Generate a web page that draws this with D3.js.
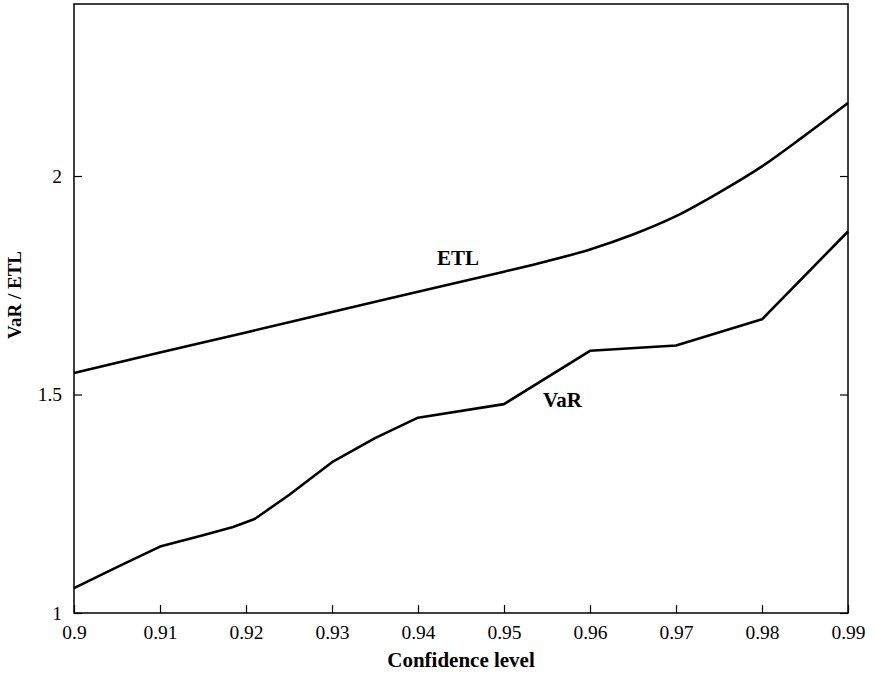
<!DOCTYPE html>
<html><head><meta charset="utf-8">
<script src="https://cdn.jsdelivr.net/npm/d3@7"></script>
<style>body{margin:0;background:#fff}svg{display:block}</style>
</head><body>
<svg id="c" width="876" height="674"></svg>
<script>
const xTicks = [0.9,0.91,0.92,0.93,0.94,0.95,0.96,0.97,0.98,0.99];
const xTickLabels = ["0.9","0.91","0.92","0.93","0.94","0.95","0.96","0.97","0.98","0.99"];
const yTicks = [1,1.5,2];
const yTickLabels = ["1","1.5","2"];
const etlX = [0.90,0.91,0.92,0.93,0.94,0.95,0.955,0.96,0.965,0.97,0.975,0.98,0.985,0.99];
const etlY = [1.549,1.596,1.642,1.689,1.735,1.781,1.805,1.832,1.866,1.908,1.962,2.022,2.093,2.167];
const varX = [0.90,0.905,0.91,0.915,0.9185,0.921,0.925,0.93,0.935,0.94,0.95,0.96,0.97,0.98,0.99];
const varY = [1.057,1.105,1.152,1.178,1.197,1.215,1.27,1.345,1.40,1.447,1.478,1.60,1.612,1.672,1.873];
const seriesLabels = ["ETL","VaR"];
const xTitle = "Confidence level", yTitle = "VaR / ETL";

const L=74,R=848,T=4,B=613;
const svg=d3.select("#c");
const x=d3.scaleLinear().domain([0.9,0.99]).range([L,R]);
const y=d3.scaleLinear().domain([1,2.3936]).range([B,T]);
const font="'Liberation Serif','Times New Roman',serif";

svg.append("rect").attr("x",L).attr("y",T).attr("width",R-L).attr("height",B-T)
  .attr("fill","none").attr("stroke","#000").attr("stroke-width",1.5);

const xAxis=d3.axisBottom(x).tickValues(xTicks).tickFormat((d,i)=>xTickLabels[i]).tickSizeInner(-8).tickSizeOuter(0).tickPadding(12);
const gx=svg.append("g").attr("transform",`translate(0,${B})`).call(xAxis);
const yAxis=d3.axisLeft(y).tickValues(yTicks).tickFormat((d,i)=>yTickLabels[i]).tickSizeInner(-8).tickSizeOuter(0).tickPadding(12);
const gy=svg.append("g").attr("transform",`translate(${L},0)`).call(yAxis);
const yAxisR=d3.axisRight(y).tickValues(yTicks).tickFormat("").tickSizeInner(-8).tickSizeOuter(0);
const gyr=svg.append("g").attr("transform",`translate(${R},0)`).call(yAxisR);
[gx,gy,gyr].forEach(g=>{g.select(".domain").remove();
  g.selectAll("line").attr("stroke","#000").attr("stroke-width",1.2);
  g.selectAll("text").attr("font-family",font).attr("font-size",19.5).attr("fill","#000");});
gx.selectAll(".tick text").attr("dy","0.71em");
gy.selectAll(".tick text").attr("dy","0.32em");

const etlLine=d3.line().x(d=>x(d[0])).y(d=>y(d[1])).curve(d3.curveMonotoneX);
const varLine=d3.line().x(d=>x(d[0])).y(d=>y(d[1]));
svg.append("path").datum(etlX.map((v,i)=>[v,etlY[i]]))
  .attr("d",etlLine).attr("fill","none").attr("stroke","#000").attr("stroke-width",2.6);
svg.append("path").datum(varX.map((v,i)=>[v,varY[i]]))
  .attr("d",varLine).attr("fill","none").attr("stroke","#000").attr("stroke-width",2.6).attr("stroke-linejoin","round");

svg.append("text").attr("x",437).attr("y",265).text(seriesLabels[0])
  .attr("font-family",font).attr("font-weight","bold").attr("font-size",21);
svg.append("text").attr("x",543).attr("y",407).text(seriesLabels[1])
  .attr("font-family",font).attr("font-weight","bold").attr("font-size",21);

svg.append("text").attr("x",(L+R)/2).attr("y",667).attr("text-anchor","middle").text(xTitle)
  .attr("font-family",font).attr("font-weight","bold").attr("font-size",21);
svg.append("text").attr("transform","translate(21,295) rotate(-90)").attr("text-anchor","middle").text(yTitle)
  .attr("font-family",font).attr("font-weight","bold").attr("font-size",19);
</script>
</body></html>
